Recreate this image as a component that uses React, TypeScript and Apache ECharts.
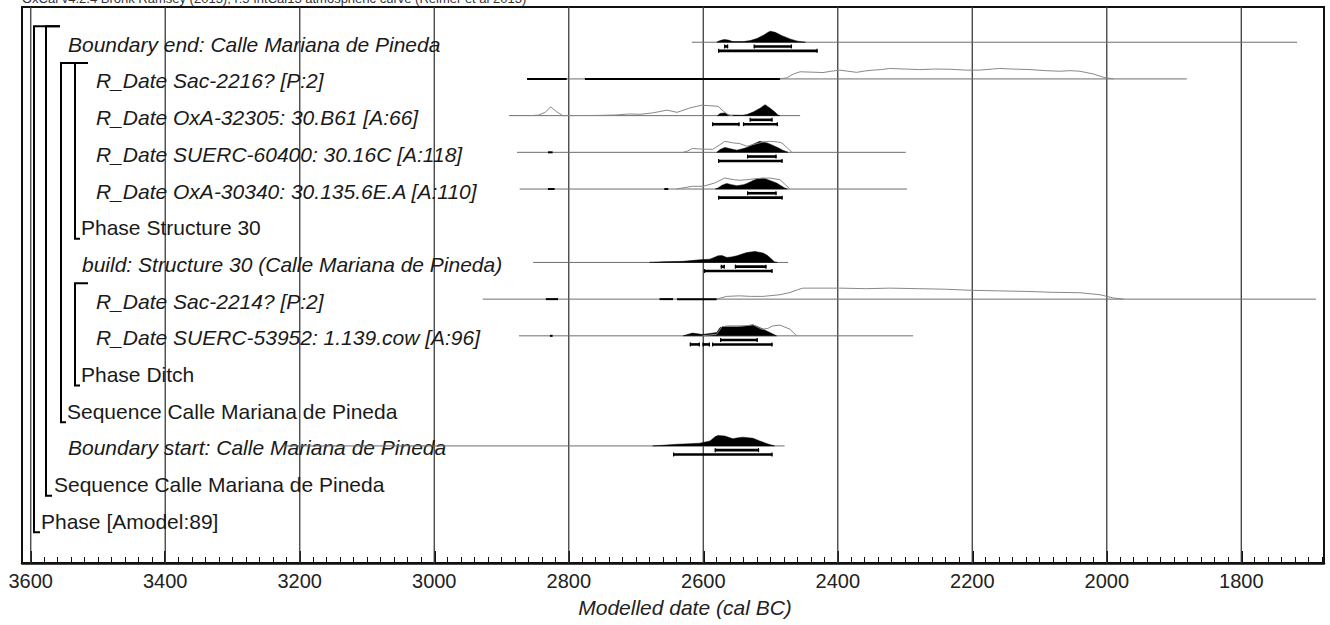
import React, { useEffect, useRef } from "react";
import * as echarts from "echarts";

// ---------- text & axis ----------
const headerText =
  "OxCal v4.2.4 Bronk Ramsey (2013); r:5 IntCal13 atmospheric curve (Reimer et al 2013)";
const axisTitle = "Modelled date (cal BC)";
const majorYears = [3600, 3400, 3200, 3000, 2800, 2600, 2400, 2200, 2000, 1800];
const axisLeftYear = 3613;
const axisRightYear = 1677;
const rowMin = -0.96;
const rowMax = 14.19;

// ---------- row labels ----------
const labelTexts = [
  "Boundary end: Calle Mariana de Pineda",
  "R_Date Sac-2216? [P:2]",
  "R_Date OxA-32305: 30.B61 [A:66]",
  "R_Date SUERC-60400: 30.16C [A:118]",
  "R_Date OxA-30340: 30.135.6E.A [A:110]",
  "Phase Structure 30",
  "build: Structure 30 (Calle Mariana de Pineda)",
  "R_Date Sac-2214? [P:2]",
  "R_Date SUERC-53952: 1.139.cow [A:96]",
  "Phase Ditch",
  "Sequence Calle Mariana de Pineda",
  "Boundary start: Calle Mariana de Pineda",
  "Sequence Calle Mariana de Pineda",
  "Phase [Amodel:89]",
];
const labelItalic = [true, true, true, true, true, false, true, true, true, false, false, true, false, false];
const labelIndent = [68, 96, 96, 96, 96, 81, 82, 96, 96, 81, 67, 68, 54, 41];

// ---------- group brackets ----------
const groupFirstRow = [0, 0, 1, 1, 7];
const groupLabelRow = [13, 12, 10, 5, 9];
const groupX = [34, 46, 61, 75, 75];
const groupTopEnd = [60, 60, 88, 88, 88];
const groupBottomEnd = [40, 52, 66, 80, 80];

// ---------- distributions: [year BC, relative height] ----------
const boundaryEndPost = [
  [2580, 0], [2575, 0.15], [2569, 0.25], [2563, 0.2], [2556, 0.06], [2540, 0.06], [2530, 0.15],
  [2520, 0.35], [2510, 0.65], [2503, 0.92], [2500, 1.0], [2493, 0.9], [2483, 0.6], [2470, 0.28],
  [2460, 0.1], [2448, 0],
];
const sac2216Prior = [
  [2486, 0], [2476, 0.1], [2466, 0.45], [2456, 0.65], [2440, 0.62], [2422, 0.58], [2410, 0.7],
  [2397, 0.8], [2385, 0.7], [2372, 0.6], [2360, 0.72], [2348, 0.8], [2335, 0.85], [2323, 0.95],
  [2300, 0.9], [2278, 0.85], [2255, 0.9], [2233, 0.88], [2210, 0.8], [2189, 0.8], [2170, 0.9],
  [2159, 0.95], [2140, 0.9], [2114, 0.85], [2090, 0.75], [2070, 0.7], [2055, 0.75], [2040, 0.7],
  [2020, 0.45], [2005, 0.15], [1990, 0],
];
const oxa32305Prior = [
  [2858, 0], [2845, 0.05], [2835, 0.3], [2827, 0.8], [2818, 0.35], [2809, 0], [2757, 0.02],
  [2730, 0.06], [2710, 0.15], [2694, 0.12], [2675, 0.25], [2654, 0.5], [2639, 0.3], [2620, 0.7],
  [2602, 0.95], [2590, 0.9], [2578, 0.85], [2570, 0.4], [2562, 0.05], [2556, 0],
];
const oxa32305Post = [
  [2579, 0], [2575, 0.2], [2568, 0.25], [2562, 0.05], [2542, 0.03], [2535, 0.1], [2525, 0.35],
  [2515, 0.7], [2508, 1.0], [2500, 0.65], [2493, 0.3], [2489, 0.05], [2486, 0],
];
const suerc60400Prior = [
  [2630, 0], [2624, 0.1], [2616, 0.35], [2605, 0.3], [2586, 0.27], [2575, 0.7], [2568, 1.0],
  [2555, 0.85], [2546, 0.8], [2535, 0.55], [2520, 0.8], [2510, 0.95], [2501, 1.0], [2490, 0.95],
  [2483, 0.85], [2475, 0.4], [2468, 0],
];
const suerc60400Post = [
  [2580, 0], [2575, 0.25], [2568, 0.45], [2558, 0.3], [2550, 0.2], [2540, 0.35], [2535, 0.45],
  [2525, 0.75], [2516, 1.0], [2505, 0.85], [2497, 0.65], [2488, 0.4], [2482, 0.2], [2474, 0],
];
const oxa30340Prior = [
  [2640, 0], [2630, 0.1], [2616, 0.25], [2600, 0.25], [2583, 0.55], [2568, 1.0], [2555, 0.85],
  [2546, 0.8], [2535, 0.85], [2520, 0.95], [2501, 1.0], [2486, 0.85], [2478, 0.4], [2471, 0],
];
const oxa30340Post = [
  [2582, 0], [2578, 0.1], [2572, 0.35], [2565, 0.5], [2558, 0.4], [2550, 0.3], [2540, 0.4],
  [2535, 0.5], [2525, 0.8], [2519, 0.95], [2510, 1.0], [2504, 0.85], [2491, 0.55], [2479, 0.1],
  [2475, 0],
];
const buildPost = [
  [2680, 0], [2660, 0.06], [2630, 0.1], [2605, 0.24], [2590, 0.3], [2578, 0.6], [2572, 0.62],
  [2565, 0.45], [2558, 0.5], [2550, 0.6], [2543, 0.75], [2535, 0.9], [2523, 1.0], [2511, 0.85],
  [2505, 0.65], [2501, 0.45], [2494, 0.05], [2490, 0],
];
const sac2214Prior = [
  [2580, 0], [2565, 0.25], [2546, 0.3], [2530, 0.25], [2511, 0.25], [2486, 0.4], [2471, 0.6],
  [2460, 0.85], [2452, 1.0], [2397, 1.0], [2357, 0.95], [2323, 1.0], [2280, 0.95], [2240, 0.9],
  [2200, 0.8], [2160, 0.75], [2120, 0.7], [2080, 0.62], [2040, 0.58], [2010, 0.4], [1990, 0.1],
  [1975, 0],
];
const suerc53952Prior = [
  [2601, 0], [2580, 0.15], [2572, 0.85], [2546, 0.85], [2526, 1.0], [2513, 0.6], [2504, 0.67],
  [2497, 0.9], [2486, 0.97], [2471, 0.6], [2461, 0],
];
const suerc53952Post = [
  [2630, 0], [2616, 0.25], [2601, 0.12], [2580, 0.3], [2575, 0.75], [2565, 0.9], [2535, 0.9],
  [2526, 1.0], [2516, 0.75], [2501, 0.3], [2491, 0],
];
const boundaryStartPost = [
  [2675, 0], [2655, 0.08], [2639, 0.15], [2620, 0.2], [2605, 0.25], [2590, 0.45], [2582, 0.85],
  [2578, 0.95], [2568, 0.9], [2556, 0.65], [2548, 0.75], [2541, 0.8], [2526, 0.7], [2516, 0.45],
  [2505, 0.2], [2494, 0],
];

// ---------- baselines, posterior fragments and ranges ----------
const distRows = [0, 1, 2, 3, 4, 6, 7, 8, 11];
const distLines = [
  [2617, 1717], [2862, 1881], [2889, 2456], [2877, 2299], [2873, 2297],
  [2853, 2474], [2928, 1689], [2874, 2288], [3225, 2479],
];
const distPost = [boundaryEndPost, null, oxa32305Post, suerc60400Post, oxa30340Post, buildPost, null, suerc53952Post, boundaryStartPost];
const distPrior = [null, sac2216Prior, oxa32305Prior, suerc60400Prior, oxa30340Prior, null, sac2214Prior, suerc53952Prior, null];
const distBits = [
  [],
  [[2862, 2803], [2776, 2486]],
  [],
  [[2831, 2824]],
  [[2831, 2821], [2658, 2652]],
  [],
  [[2834, 2816], [2665, 2645], [2639, 2580]],
  [[2828, 2824]],
  [],
];
const range68 = [
  [[2569, 2563], [2525, 2468]],
  [],
  [[2531, 2497]],
  [[2535, 2491]],
  [[2535, 2491]],
  [[2574, 2568], [2553, 2506]],
  [],
  [[2575, 2519]],
  [[2583, 2517]],
];
const range95 = [
  [[2578, 2430]],
  [],
  [[2587, 2546], [2541, 2489]],
  [[2578, 2482]],
  [[2578, 2482]],
  [[2599, 2497]],
  [],
  [[2620, 2605], [2601, 2590], [2587, 2497]],
  [[2645, 2497]],
];

const PEAK_PX = 11;
const FONT = '"Liberation Sans", Arial, sans-serif';

export default function App() {
  const ref = useRef<HTMLDivElement>(null);
  useEffect(() => {
    document.body.style.margin = "0";
    const chart = echarts.init(ref.current!, null, { renderer: "svg" });

    const minorYears: number[] = [];
    for (let y = 3600; y >= 1680; y -= 20) minorYears.push(y);

    const renderDist = (params: any, api: any) => {
      const i = params.dataIndex;
      const row = distRows[i];
      const y0 = api.coord([2500, row])[1];
      const px = (yr: number) => api.coord([yr, row])[0];
      const children: any[] = [];
      const line = distLines[i];
      children.push({
        type: "line",
        shape: { x1: px(line[0]), y1: y0, x2: px(line[1]), y2: y0 },
        style: { stroke: "#6e6e6e", lineWidth: 1 },
      });
      distBits[i].forEach(([a, b]) =>
        children.push({
          type: "line",
          shape: { x1: px(a), y1: y0, x2: px(b), y2: y0 },
          style: { stroke: "#000", lineWidth: 2 },
        })
      );
      const post = distPost[i];
      if (post) {
        children.push({
          type: "polygon",
          shape: { points: post.map(([yr, h]) => [px(yr), y0 - h * PEAK_PX]) },
          style: { fill: "#000", stroke: "#000", lineWidth: 0.5 },
        });
      }
      const prior = distPrior[i];
      if (prior) {
        children.push({
          type: "polyline",
          shape: { points: prior.map(([yr, h]) => [px(yr), y0 - h * PEAK_PX]) },
          style: { fill: "none", stroke: "#888", lineWidth: 1 },
        });
      }
      const bar = (ranges: number[][], off: number) =>
        ranges.forEach(([a, b]) => {
          const xa = px(a), xb = px(b), yy = y0 + off;
          children.push({ type: "line", shape: { x1: xa, y1: yy, x2: xb, y2: yy }, style: { stroke: "#000", lineWidth: 2.6 } });
          children.push({ type: "line", shape: { x1: xa + 0.6, y1: yy - 2, x2: xa + 0.6, y2: yy + 2 }, style: { stroke: "#000", lineWidth: 1.2 } });
          children.push({ type: "line", shape: { x1: xb - 0.6, y1: yy - 2, x2: xb - 0.6, y2: yy + 2 }, style: { stroke: "#000", lineWidth: 1.2 } });
        });
      bar(range68[i], 4.2);
      bar(range95[i], 8.6);
      return { type: "group", children };
    };

    const renderLabel = (params: any, api: any) => {
      const i = params.dataIndex;
      const y = api.coord([2500, i])[1] + 2;
      return {
        type: "text",
        x: labelIndent[i],
        y,
        style: {
          text: labelTexts[i],
          fill: "#1a1a1a",
          font: `${labelItalic[i] ? "italic " : ""}21px ${FONT}`,
          align: "left",
          verticalAlign: "middle",
        },
      };
    };

    const renderGroup = (params: any, api: any) => {
      const i = params.dataIndex;
      const yTop = api.coord([2500, groupFirstRow[i]])[1] - 16;
      const yBot = api.coord([2500, groupLabelRow[i]])[1] + 13;
      return {
        type: "polyline",
        shape: {
          points: [
            [groupTopEnd[i], yTop],
            [groupX[i], yTop],
            [groupX[i], yBot],
            [groupBottomEnd[i], yBot],
          ],
        },
        style: { fill: "none", stroke: "#000", lineWidth: 2 },
      };
    };

    const renderGrid = (params: any, api: any) => {
      const yr = majorYears[params.dataIndex];
      const a = api.coord([yr, rowMin]);
      const b = api.coord([yr, rowMax]);
      return {
        type: "line",
        shape: { x1: a[0], y1: a[1], x2: b[0], y2: b[1] },
        style: { stroke: "#3c3c3c", lineWidth: 1.3 },
      };
    };

    chart.setOption({
      animation: false,
      grid: { left: 22, right: 6, top: 7, bottom: 62, show: true, borderColor: "#111", borderWidth: 2, backgroundColor: "#fff" },
      xAxis: [
        {
          type: "value",
          min: axisRightYear,
          max: axisLeftYear,
          inverse: true,
          name: axisTitle,
          nameLocation: "middle",
          nameGap: 34,
          nameTextStyle: { fontStyle: "italic", fontSize: 21, fontFamily: FONT, color: "#222", padding: [0, 0, 0, 24] },
          axisLine: { show: true, onZero: false, lineStyle: { color: "#111", width: 2.5 } },
          axisTick: { show: true, inside: true, length: 12, customValues: majorYears, lineStyle: { color: "#111", width: 2 } },
          axisLabel: {
            customValues: majorYears,
            fontSize: 20,
            fontFamily: FONT,
            color: "#222",
            margin: 8,
            formatter: (v: number) => String(v),
          },
          splitLine: { show: false },
        },
        {
          type: "value",
          min: axisRightYear,
          max: axisLeftYear,
          inverse: true,
          position: "bottom",
          axisLine: { show: false, onZero: false },
          axisTick: { show: true, inside: true, length: 6, customValues: minorYears, lineStyle: { color: "#111", width: 1 } },
          axisLabel: { show: false, customValues: minorYears },
          splitLine: { show: false },
        },
      ],
      yAxis: { type: "value", min: rowMin, max: rowMax, inverse: true, show: false },
      graphic: [
        { type: "text", x: 22, y: 5, style: { text: headerText, font: `13px ${FONT}`, fill: "#333", verticalAlign: "bottom" } },
      ],
      series: [
        { type: "custom", renderItem: renderGrid, data: majorYears.map((y) => [y, 0]), encode: { x: 0, y: 1 }, z: 1, silent: true },
        { type: "custom", renderItem: renderGroup, data: groupX.map((_, i) => [2500, groupLabelRow[i]]), encode: { x: 0, y: 1 }, z: 2, silent: true },
        { type: "custom", renderItem: renderLabel, data: labelTexts.map((_, i) => [2500, i]), encode: { x: 0, y: 1 }, z: 3, silent: true },
        { type: "custom", renderItem: renderDist, data: distRows.map((r) => [2500, r]), encode: { x: 0, y: 1 }, z: 4, silent: true },
      ],
    });
    return () => chart.dispose();
  }, []);
  return <div ref={ref} style={{ width: 1330, height: 625 }} />;
}
